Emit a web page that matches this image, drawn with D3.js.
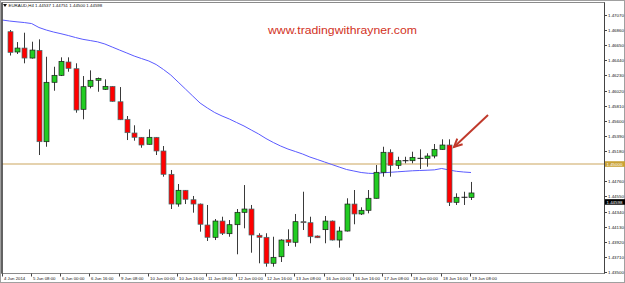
<!DOCTYPE html>
<html lang="en">
	<head>
		<meta charset="UTF-8" />
		<title>EURAUD H4</title>
		<script src="https://d3js.org/d3.v7.min.js"></script>
		<style>
			body {
				margin: 0;
				background: #fff;
			}
			text {
				font-family: "Liberation Sans", Arial, sans-serif;
			}
		</style>
	</head>
	<body>
		<svg id="chart"></svg>

		<script>
			// Data (H4 bars, 4 Jun 20:00 .. 19 Jun 08:00)
			const opens = [
				1.46838, 1.46556, 1.46611, 1.46472, 1.46579, 1.4531, 1.46135, 1.46232, 1.46417, 1.46324,
				1.4576, 1.46079, 1.46163, 1.46038, 1.46079, 1.45865, 1.45621, 1.45431, 1.45371, 1.45274,
				1.45371, 1.45181, 1.44857, 1.44444, 1.44635, 1.44504, 1.44444, 1.44153, 1.43982, 1.44208,
				1.44032, 1.44157, 1.44329, 1.44375, 1.4401, 1.43982, 1.43621, 1.43712, 1.43949, 1.43913,
				1.44199, 1.44185, 1.44, 1.44088, 1.44208, 1.43944, 1.44069, 1.44444, 1.44306, 1.44357,
				1.44524, 1.44885, 1.45163, 1.44982, 1.45046, 1.45046, 1.45079, 1.45079, 1.45111, 1.45204,
				1.45264, 1.44468, 1.44538, 1.44537,
			];
			const highs = [
				1.46861, 1.46694, 1.46824, 1.46699, 1.46732, 1.4649, 1.46351, 1.46482, 1.46482, 1.46399,
				1.46222, 1.46301, 1.46201, 1.46176, 1.46083, 1.46069, 1.45667, 1.45538, 1.45375, 1.45482,
				1.45375, 1.4525, 1.44917, 1.44722, 1.44639, 1.44556, 1.44451, 1.44431, 1.44236, 1.44268,
				1.44222, 1.44375, 1.44708, 1.44431, 1.44038, 1.44038, 1.4399, 1.43954, 1.44093, 1.44306,
				1.44615, 1.44268, 1.44007, 1.44278, 1.44215, 1.44129, 1.44524, 1.44639, 1.44399, 1.44639,
				1.44986, 1.4524, 1.45204, 1.45101, 1.45101, 1.45171, 1.45204, 1.45149, 1.45278, 1.45343,
				1.45343, 1.44593, 1.44615, 1.44751,
			];
			const lows = [
				1.46507, 1.46528, 1.46399, 1.46465, 1.45125, 1.4524, 1.46018, 1.46222, 1.46282, 1.45713,
				1.45621, 1.46051, 1.46004, 1.46031, 1.45865, 1.45611, 1.45333, 1.45324, 1.45226, 1.45271,
				1.45125, 1.44824, 1.44375, 1.44407, 1.44444, 1.44324, 1.4406, 1.43931, 1.43944, 1.44014,
				1.4399, 1.43746, 1.44107, 1.43768, 1.43621, 1.43574, 1.43574, 1.43639, 1.43861, 1.43851,
				1.44083, 1.43899, 1.43972, 1.43899, 1.43938, 1.43838, 1.44063, 1.44163, 1.44292, 1.44315,
				1.44521, 1.44824, 1.44824, 1.44931, 1.4501, 1.4501, 1.44931, 1.44963, 1.45079, 1.45201,
				1.44417, 1.44431, 1.44431, 1.445,
			];
			const closes = [
				1.46551, 1.46611, 1.46472, 1.46583, 1.4531, 1.46135, 1.46232, 1.46426, 1.46329, 1.4575,
				1.46074, 1.46163, 1.4619, 1.46079, 1.45871, 1.45615, 1.45435, 1.45371, 1.45264, 1.45371,
				1.45181, 1.44857, 1.44444, 1.44635, 1.4451, 1.44444, 1.44163, 1.43982, 1.44208, 1.44038,
				1.44157, 1.44329, 1.44375, 1.44014, 1.43982, 1.43621, 1.43704, 1.43944, 1.43913, 1.44199,
				1.44185, 1.4399, 1.43976, 1.44208, 1.43944, 1.44069, 1.44444, 1.44306, 1.44357, 1.44524,
				1.44885, 1.45163, 1.44982, 1.45046, 1.45046, 1.45093, 1.45079, 1.45111, 1.45204, 1.45264,
				1.44468, 1.44538, 1.44538, 1.44598,
			];
			// moving average, first value belongs to the bar before the first visible one
			const maValues = [
				1.47, 1.46986, 1.46975, 1.46965, 1.46951, 1.46896, 1.46861, 1.46833, 1.4681, 1.46785, 1.46757,
				1.46732, 1.46715, 1.46697, 1.46667, 1.46625, 1.46583, 1.46542, 1.465, 1.46465, 1.46431,
				1.46382, 1.46313, 1.46236, 1.46139, 1.46042, 1.45944, 1.45847, 1.45778, 1.45715, 1.45667,
				1.45625, 1.45576, 1.45528, 1.45472, 1.45417, 1.45354, 1.45299, 1.4525, 1.45208, 1.45174,
				1.45139, 1.45097, 1.45063, 1.45028, 1.44993, 1.44958, 1.44924, 1.44903, 1.44882, 1.44871,
				1.44868, 1.44878, 1.44885, 1.44892, 1.44899, 1.44906, 1.4491, 1.44914, 1.44919, 1.44938,
				1.44917, 1.44899, 1.44889, 1.44882,
			];

			const priceTicks = d3.range(18).map((i) => +(1.4707 - i * 0.0021).toFixed(5));
			const timeTickBars = [-0.9, 3, 7, 11, 15, 19, 23, 27, 31, 35, 39, 43, 47, 51, 55, 59, 63];
			const timeTickLabels = [
				"4 Jun 2014", "5 Jun 08:00", "6 Jun 00:00", "6 Jun 16:00", "9 Jun 08:00", "10 Jun 00:00",
				"10 Jun 16:00", "11 Jun 08:00", "12 Jun 00:00", "12 Jun 16:00", "13 Jun 08:00",
				"16 Jun 00:00", "16 Jun 16:00", "17 Jun 08:00", "18 Jun 00:00", "18 Jun 16:00", "19 Jun 08:00",
			];
			const levelPrice = 1.45;
			const header = "EURAUD,H4  1.44537 1.44751 1.44500 1.44598";

			// Constants
			const WIDTH = 625;
			const HEIGHT = 283;
			const PLOT = { left: 2, right: 604.5, top: 2.5, bottom: 273.5 };

			const bars = opens.map((o, i) => ({ i, o, h: highs[i], l: lows[i], c: closes[i] }));

			// Scales
			const xScale = d3.scaleLinear().domain([0, 63]).range([9.7, 471]);
			const yScale = d3.scaleLinear().domain([1.435, 1.4707]).range([272, 15]);

			const svg = d3.select("#chart").attr("width", WIDTH).attr("height", HEIGHT);

			svg.append("defs")
				.append("clipPath")
				.attr("id", "plot-clip")
				.append("rect")
				.attr("x", PLOT.left)
				.attr("y", PLOT.top)
				.attr("width", PLOT.right - PLOT.left)
				.attr("height", PLOT.bottom - PLOT.top);

			// outer frame
			svg.append("rect")
				.attr("x", 0.5)
				.attr("y", 0.5)
				.attr("width", WIDTH - 1)
				.attr("height", HEIGHT - 1)
				.attr("fill", "#fff")
				.attr("stroke", "#a0a0a0");

			const plot = svg.append("g").attr("clip-path", "url(#plot-clip)");

			// level line
			plot.append("line")
				.attr("x1", PLOT.left)
				.attr("x2", PLOT.right)
				.attr("y1", yScale(levelPrice))
				.attr("y2", yScale(levelPrice))
				.attr("stroke", "#dcc393")
				.attr("stroke-width", 1.5);

			// moving average
			plot.append("path")
				.datum(maValues)
				.attr("fill", "none")
				.attr("stroke", "#5a5aff")
				.attr("stroke-width", 1)
				.attr("d", d3.line().x((d, k) => xScale(k - 1)).y((d) => yScale(d)));

			// candles
			const candle = plot.selectAll(".candle").data(bars).enter().append("g").classed("candle", true);

			candle.append("line")
				.attr("x1", (d) => Math.round(xScale(d.i)) + 0.5)
				.attr("x2", (d) => Math.round(xScale(d.i)) + 0.5)
				.attr("y1", (d) => yScale(d.h))
				.attr("y2", (d) => yScale(d.l))
				.attr("stroke", "#3a3a3a")
				.attr("stroke-width", 1);

			candle.filter((d) => d.o !== d.c)
				.append("rect")
				.attr("x", (d) => Math.round(xScale(d.i)) - 2)
				.attr("width", 5)
				.attr("y", (d) => yScale(Math.max(d.o, d.c)))
				.attr("height", (d) => Math.max(1, Math.abs(yScale(d.o) - yScale(d.c))))
				.attr("fill", (d) => (d.c > d.o ? "#22cc22" : "#ff0000"))
				.attr("stroke", (d) => (d.c > d.o ? "#1a1a1a" : "#3f6f6f"))
				.attr("stroke-width", 0.7);

			// dojis as short horizontal dashes
			candle.filter((d) => d.o === d.c)
				.append("line")
				.attr("x1", (d) => Math.round(xScale(d.i)) - 2.5)
				.attr("x2", (d) => Math.round(xScale(d.i)) + 3.5)
				.attr("y1", (d) => yScale(d.o))
				.attr("y2", (d) => yScale(d.o))
				.attr("stroke", "#111")
				.attr("stroke-width", 1);

			// plot border
			svg.append("rect")
				.attr("x", PLOT.left)
				.attr("y", PLOT.top)
				.attr("width", PLOT.right - PLOT.left)
				.attr("height", PLOT.bottom - PLOT.top)
				.attr("fill", "none")
				.attr("stroke", "#8a8a8a")
				.attr("stroke-width", 1);
			svg.append("line")
				.attr("x1", PLOT.left)
				.attr("x2", PLOT.left)
				.attr("y1", PLOT.top)
				.attr("y2", PLOT.bottom)
				.attr("stroke", "#222")
				.attr("stroke-width", 1.2);
			svg.append("line")
				.attr("x1", PLOT.right)
				.attr("x2", PLOT.right)
				.attr("y1", PLOT.top)
				.attr("y2", PLOT.bottom)
				.attr("stroke", "#444")
				.attr("stroke-width", 1);

			// price axis (the tick label hidden under the level label is left out)
			const visibleTicks = priceTicks.filter((d) => Math.abs(yScale(d) - yScale(levelPrice)) > 4);
			const yTick = svg.append("g").selectAll("g").data(visibleTicks).enter().append("g")
				.attr("transform", (d) => `translate(${PLOT.right}, ${Math.round(yScale(d)) + 0.5})`);
			yTick.append("line").attr("x2", 2.5).attr("stroke", "#444");
			yTick.append("text")
				.attr("x", 3.5)
				.attr("dy", "0.35em")
				.attr("font-size", 4.4)
				.attr("fill", "#111")
				.text((d) => d.toFixed(5));

			// time axis
			const xTick = svg.append("g").selectAll("g").data(timeTickBars).enter().append("g")
				.attr("transform", (d) => `translate(${Math.round(xScale(d)) - 0.5}, ${PLOT.bottom})`);
			xTick.append("line").attr("y2", 3).attr("stroke", "#444");
			xTick.append("text")
				.attr("x", 1.5)
				.attr("y", 6.2)
				.attr("font-size", 4.3)
				.attr("fill", "#111")
				.text((d, k) => timeTickLabels[k]);

			// level price label
			const levelLabel = svg.append("g").attr("transform", `translate(${PLOT.right}, ${yScale(levelPrice)})`);
			levelLabel.append("rect").attr("x", 0.5).attr("y", -2.8).attr("width", 20).attr("height", 5.6).attr("fill", "#c9a236");
			levelLabel.append("text")
				.attr("x", 2)
				.attr("dy", "0.35em")
				.attr("font-size", 4.4)
				.attr("fill", "#fff")
				.text(levelPrice.toFixed(5));

			// current price label (sits a little below the close, as in the terminal)
			const lastClose = closes[closes.length - 1];
			const bidLabel = svg.append("g").attr("transform", `translate(${PLOT.right}, ${yScale(lastClose) + 9})`);
			bidLabel.append("rect").attr("x", 0.5).attr("y", -2.8).attr("width", 20).attr("height", 5.6).attr("fill", "#000");
			bidLabel.append("text")
				.attr("x", 2)
				.attr("dy", "0.35em")
				.attr("font-size", 4.4)
				.attr("fill", "#fff")
				.text(lastClose.toFixed(5));

			// header
			svg.append("path").attr("d", "M3,4 L7,4 L5,7 Z").attr("fill", "#111");
			svg.append("text")
				.attr("x", 8.5)
				.attr("y", 7.2)
				.attr("font-size", 4.4)
				.attr("fill", "#111")
				.text(header);

			// watermark
			svg.append("text")
				.attr("x", 268)
				.attr("y", 34)
				.attr("font-family", "'Comic Sans MS', 'DejaVu Sans', sans-serif")
				.attr("font-size", 11.5)
				.attr("textLength", 149)
				.attr("lengthAdjust", "spacingAndGlyphs")
				.attr("fill", "#d2321e")
				.text("www.tradingwithrayner.com");

			// arrow pointing to the big bearish candle
			const tipX = xScale(60) + 5;
			const tipY = yScale(opens[60]) + 2;
			const tailX = tipX + 34;
			const tailY = tipY - 32;
			const ang = Math.atan2(tipY - tailY, tipX - tailX);
			const headLen = 9;
			const arrow = svg.append("g").attr("stroke", "#c0392b").attr("stroke-width", 2).attr("fill", "none");
			arrow.append("line").attr("x1", tailX).attr("y1", tailY).attr("x2", tipX).attr("y2", tipY);
			arrow.append("path").attr(
				"d",
				`M${tipX - headLen * Math.cos(ang - 0.45)},${tipY - headLen * Math.sin(ang - 0.45)} L${tipX},${tipY} L${tipX - headLen * Math.cos(ang + 0.45)},${tipY - headLen * Math.sin(ang + 0.45)}`
			);
		</script>
	</body>
</html>
